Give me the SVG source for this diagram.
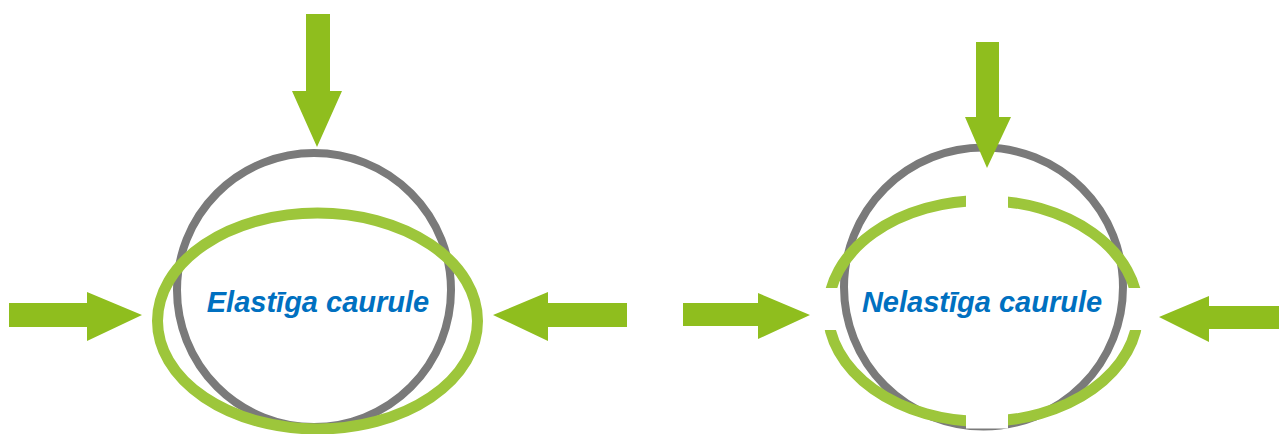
<svg xmlns="http://www.w3.org/2000/svg" width="1279" height="434" viewBox="0 0 1279 434">
  <style>
    .arrow { fill: #8FBE1E; }
    .tube { fill: none; stroke: #7A7A7A; stroke-width: 8; }
    .deform { fill: none; stroke: #9DC63B; stroke-width: 11; }
    .label { font-family: "Liberation Sans", Arial, sans-serif; font-size: 29px; font-weight: bold; font-style: italic; fill: #0070C0; text-anchor: middle; }
  </style>
  <defs>
    <clipPath id="gaps">
      <rect x="800" y="150" width="166" height="138"/>
      <rect x="1008" y="150" width="166" height="138"/>
      <rect x="800" y="330" width="166" height="110"/>
      <rect x="1008" y="330" width="166" height="110"/>
    </clipPath>
  </defs>
  <rect width="1279" height="434" fill="#FFFFFF"/>

  <g id="elastic-tube">
    <circle class="tube" cx="314" cy="290" r="137"/>
    <ellipse class="deform" cx="317.5" cy="321" rx="160" ry="108"/>
    <text class="label" x="318" y="312">Elastīga caurule</text>
  </g>

  <g id="inelastic-tube">
    <circle class="tube" cx="983.5" cy="287" r="139.5"/>
    <rect x="966" y="400" width="42" height="28.5" fill="#FFFFFF"/>
    <ellipse class="deform" cx="983" cy="311" rx="155" ry="110.5" clip-path="url(#gaps)"/>
    <text class="label" x="982" y="312">Nelastīga caurule</text>
  </g>

  <g id="connectors">
    <polygon class="arrow" points="306,14 330,14 330,91 342,91 317,147 292,91 306,91"/>
    <polygon class="arrow" points="9,303 87,303 87,292 142,315 87,341 87,327 9,327"/>
    <polygon class="arrow" points="627,303 548,303 548,292 493,315 548,341 548,327 627,327"/>
    <polygon class="arrow" points="976,42 999,42 999,117 1011,117 987,168 965,117 976,117"/>
    <polygon class="arrow" points="683,303 758,303 758,293 810,315 758,339 758,326 683,326"/>
    <polygon class="arrow" points="1279,306 1209,306 1209,296 1159,317 1209,342 1209,329 1279,329"/>
  </g>
</svg>
